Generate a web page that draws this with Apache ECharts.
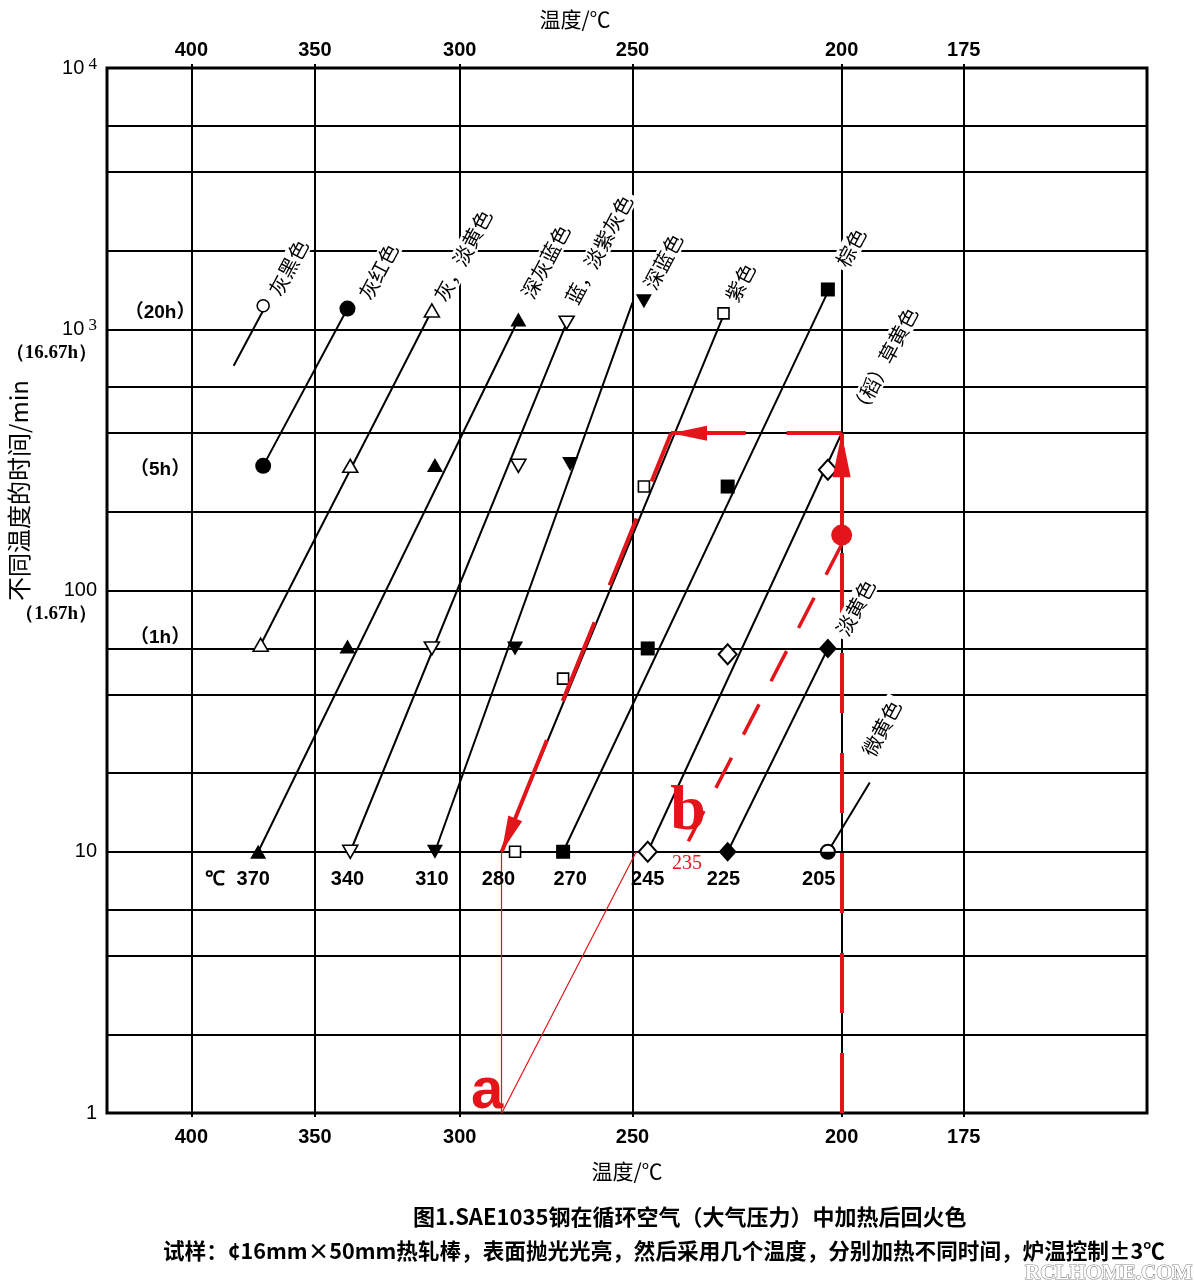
<!DOCTYPE html>
<html><head><meta charset="utf-8">
<script src="https://cdn.jsdelivr.net/npm/echarts@6/dist/echarts.min.js"></script>
<style>html,body{margin:0;padding:0;background:#fff}#c{width:1194px;height:1283px}</style>
</head><body><div id="c"></div>
<script>
// ---------------- data ----------------
// temperature axis (reciprocal absolute temperature scale), tick labels in °C
const tempTicks = [400, 350, 300, 250, 200, 175];
// extra horizontal grid values (min) besides the decades
const timeMinor = [2, 4, 6, 20, 40, 60, 200, 400, 600, 2000, 4000, 6000];

// markers: [temperature °C as placed on the chart, time min]
const openCircle    = [[370, 1230]];
const filledCircle  = [[370, 300], [338, 1200]];
const openTriUp     = [[371, 62], [337, 300], [309, 1180]];
const filledTriUp   = [[372, 10], [338, 61], [308, 302], [282, 1090]];
const openTriDown   = [[337, 10], [309, 60], [282, 300], [268, 1060]];
const filledTriDown = [[308, 10], [283, 60], [267, 305], [247, 1280]];
const openSquare    = [[283, 10], [269, 46], [247, 250], [227, 1150]];
const filledSquare  = [[269, 10], [246, 60], [226, 250], [203, 1420]];
const openDiamond   = [[246, 10], [226, 57], [203, 290]];
const filledDiamond = [[226, 10], [203, 60]];
const halfCircle    = [[203, 10]];

// isochromatic (temper colour) lines
const colourNames = ['灰黑色', '灰红色', '灰，淡黄色', '深灰蓝色', '蓝，淡紫灰色', '深蓝色', '紫色', '棕色', '（稻）草黄色', '淡黄色', '微黄色'];
const lineStarts  = [[382, 725], [370, 300], [371, 62], [372, 10], [337, 10], [308, 10], [287, 10], [269, 10], [246, 10], [226, 10], [203, 10]];
const lineEnds    = [[370, 1180], [338, 1200], [309, 1180], [282, 1090], [268, 1060], [250, 1265], [227, 1130], [203, 1390], [200, 400], [203, 60], [194, 18.4]];
const colourLabelAt = [[360, 1722], [327, 1663], [299, 1915], [274, 1816], [259, 2020], [242, 1816], [223, 1510], [198, 2056], [191, 751], [197, 86], [191.5, 29.7]];

// labels of the 10-min row and hour marks
const rowTempText = ['℃', '370', '340', '310', '280', '270', '245', '225', '205'];
const rowTempAt   = [390, 374, 338, 309, 288, 267, 246, 227, 205];
const rowTempTime = 7.8;
const hourText = ['（20h）', '（5h）', '（1h）'];
const hourTime = [1160, 290, 66];
const hourTemp = 414;

// red annotations
const redCircle     = [200, 163];
const redUpArrow    = [[200, 163], [200, 400]];
const redLeftArrow  = [[200, 400], [240, 400]];
const redDownArrow  = [[240, 400], [287, 10]];
const redRiseDashed = [[200, 1], [200, 158]];
const redBDashed    = [[200, 150], [237, 10]];
const redThinDrop   = [[287, 10], [287, 1]];
const redThinDiag   = [[287, 1], [249, 10]];
const redText       = ['a', 'b', '235'];
const redTextAt     = [[291.5, 1.2], [235.7, 14.1], [236, 9.0]];

// ---------------- chart ----------------
const RED = '#e3151a';
const X = T => 1000 / (T + 273);          // 1000/K
const P = d => [X(d[0]), d[1]];
const X_MIN = 1.4043, X_MAX = 2.4092;

const tickFont = { fontFamily: 'Liberation Sans, Arial, sans-serif', fontSize: 20, color: '#000', fontWeight: 'bold' };
const cjk = 'Noto Sans CJK SC';

function markerSeries(data, symbol, size, fill, extra, border) {
  return Object.assign({
    type: 'scatter', data: data.map(P), symbol: symbol, symbolSize: size, z: 4, silent: true,
    itemStyle: { color: fill, borderColor: '#000', borderWidth: fill === '#fff' ? (border || 1.6) : 0, opacity: 1 }
  }, extra || {});
}
function textSeries(items, label, z) {
  return { type: 'scatter', symbolSize: 0, z: z || 6, silent: true, data: items,
    itemStyle: { color: 'transparent', opacity: 1 },
    label: Object.assign({ show: true, position: 'inside', formatter: '{b}', opacity: 1 }, label) };
}
function redLines(pairs, style, sym, symSize) {
  return { type: 'lines', coordinateSystem: 'cartesian2d', z: 5, silent: true,
    symbol: sym || 'none', symbolSize: symSize || 0,
    lineStyle: Object.assign({ color: RED, opacity: 1, curveness: 0 }, style),
    data: pairs.map(p => ({ coords: [P(p[0]), P(p[1])] })) };
}
const arrowHead = 'path://M0,-44 M0,0 L9,44 L-9,44 Z';

const option = {
  animation: false,
  backgroundColor: '#fff',
  title: [
    { text: '图1.SAE1035钢在循环空气（大气压力）中加热后回火色', left: 408, top: 1201,
      textStyle: { fontFamily: cjk, fontSize: 22, fontWeight: 'bold', color: '#000' } },
    { text: '试样：¢16mm×50mm热轧棒，表面抛光光亮，然后采用几个温度，分别加热不同时间，炉温控制±3℃', left: 158, top: 1235,
      textStyle: { fontFamily: cjk, fontSize: 21.6, fontWeight: 'bold', color: '#000' } },
    { text: 'RCLHOME.COM', left: 1020, top: 1258,
      textStyle: { fontFamily: 'Liberation Serif, serif', fontSize: 21, color: '#fff', textBorderColor: '#8a8a8a', textBorderWidth: 1.2 } }
  ],
  grid: { left: 107, right: 47, top: 68, bottom: 170, outerBoundsMode: 'none', containLabel: false,
    show: true, borderColor: '#000', borderWidth: 3, backgroundColor: 'transparent' },
  xAxis: [
    { type: 'value', position: 'bottom', min: X_MIN, max: X_MAX,
      axisLine: { show: false },
      axisTick: { show: true, length: 4, customValues: tempTicks.map(X), lineStyle: { color: '#000', width: 2 } },
      axisLabel: Object.assign({ customValues: tempTicks.map(X), margin: 14, formatter: v => String(Math.round(1000 / v - 273)) }, tickFont),
      splitLine: { show: true, lineStyle: { color: '#000', width: 2 } },
      name: '温度/℃', nameLocation: 'middle', nameGap: 48, nameMoveOverlap: false,
      nameTextStyle: { fontFamily: cjk, fontSize: 21, color: '#000' } },
    { type: 'value', position: 'top', min: X_MIN, max: X_MAX,
      axisLine: { show: false },
      axisTick: { show: true, length: 4, customValues: tempTicks.map(X), lineStyle: { color: '#000', width: 2 } },
      axisLabel: Object.assign({ customValues: tempTicks.map(X), margin: 8, formatter: v => String(Math.round(1000 / v - 273)) }, tickFont),
      splitLine: { show: false },
      name: '温度/℃', nameLocation: 'middle', nameGap: 38, nameMoveOverlap: false,
      nameTextStyle: { fontFamily: cjk, fontSize: 21, color: '#000', padding: [0, 104, 0, 0] } }
  ],
  yAxis: {
    type: 'log', logBase: 10, min: 1, max: 10000,
    axisLine: { show: false }, axisTick: { show: false },
    splitLine: { show: true, lineStyle: { color: '#000', width: 2 } },
    axisLabel: {
      margin: 10,
      formatter: v => {
        if (v === 1) return '{n|1}';
        if (v === 10) return '{n|10}';
        if (v === 100) return '{e| }\n{n|100}\n{h|（1.67h）}';
        if (v === 1000) return '{e| }\n{n|10}{s| 3}\n{h|（16.67h）}';
        return '{n|10}{s| 4}';
      },
      rich: {
        n: { fontFamily: 'Liberation Sans Narrow, Liberation Sans, sans-serif', fontSize: 20, color: '#000', lineHeight: 24 },
        s: { fontFamily: 'Liberation Serif, serif', fontSize: 17, color: '#000', lineHeight: 24, verticalAlign: 'top' },
        h: { fontFamily: 'Liberation Serif, serif', fontWeight: 'bold', fontSize: 19, color: '#000', lineHeight: 24 },
        e: { fontSize: 10, lineHeight: 24 }
      }
    },
    name: '不同温度的时间/min', nameLocation: 'middle', nameGap: 76, nameMoveOverlap: false,
    nameTextStyle: { fontFamily: cjk, fontSize: 24, color: '#000', padding: [0, 0, 0, 200] }
  },
  series: [
    // minor horizontal grid lines
    { type: 'lines', coordinateSystem: 'cartesian2d', z: 1, silent: true,
      lineStyle: { color: '#000', width: 2, opacity: 1 },
      data: timeMinor.map(v => ({ coords: [[X_MIN, v], [X_MAX, v]] })) },
    // isochromatic lines
    { type: 'lines', coordinateSystem: 'cartesian2d', z: 3, silent: true,
      lineStyle: { color: '#000', width: 2, opacity: 1 },
      data: lineStarts.map((s, i) => ({ coords: [P(s), P(lineEnds[i])] })) },
    // markers
    markerSeries(openCircle, 'circle', 12, '#fff'),
    markerSeries(filledCircle, 'circle', 16, '#000'),
    markerSeries(openTriUp, 'triangle', [15, 13], '#fff'),
    markerSeries(filledTriUp, 'triangle', [16, 14], '#000'),
    markerSeries(openTriDown, 'triangle', [15, 13], '#fff', { symbolRotate: 180 }),
    markerSeries(filledTriDown, 'triangle', [16, 14], '#000', { symbolRotate: 180 }),
    markerSeries(openSquare, 'rect', 11, '#fff'),
    markerSeries(filledSquare, 'rect', 14, '#000'),
    markerSeries(openDiamond, 'diamond', [18, 20], '#fff', null, 2),
    markerSeries(filledDiamond, 'diamond', [18, 20], '#000'),
    markerSeries(halfCircle, 'circle', 14, '#fff', null, 2),
    markerSeries(halfCircle, 'path://M0,0 A10,10 0 0 0 20,0 Z', [13, 6.5], '#000', { symbolOffset: [0, 3.2], z: 5 }),
    // red annotations
    redLines([redRiseDashed], { width: 4, type: [60, 40] }),
    redLines([redUpArrow], { width: 4 }, ['none', arrowHead], [0, [18, 88]]),
    redLines([redLeftArrow], { width: 4, type: [55, 41, 300, 10] }, ['none', arrowHead], [0, [15, 72]]),
    redLines([redDownArrow], { width: 4, type: [52, 40, 72, 40, 85, 42, 130, 10] }, ['none', arrowHead], [0, [15, 72]]),
    redLines([redBDashed], { width: 3.5, type: [34, 26] }),
    redLines([redThinDrop, redThinDiag], { width: 1.2 }),
    { type: 'scatter', z: 6, silent: true, data: [P(redCircle)], symbol: 'circle', symbolSize: 21, itemStyle: { color: RED, opacity: 1 } },
    // colour names along the lines
    textSeries(colourNames.map((n, i) => ({ name: n, value: P(colourLabelAt[i]) })),
      { rotate: 62, fontFamily: cjk, fontSize: 20, color: '#000', backgroundColor: '#fff', padding: [1, 4] }, 6),
    // temperatures of the 10-min row
    textSeries(rowTempText.map((n, i) => ({ name: n, value: [X(rowTempAt[i]), rowTempTime] })),
      { fontFamily: 'Liberation Sans, Arial, sans-serif', fontSize: 20, fontWeight: 'bold', color: '#000' }, 6),
    // hour marks
    textSeries(hourText.map((n, i) => ({ name: n, value: [X(hourTemp), hourTime[i]] })),
      { fontFamily: 'Liberation Sans, ' + cjk, fontSize: 19, fontWeight: 'bold', color: '#000' }, 6),
    // red letters
    textSeries([
      { name: redText[0], value: P(redTextAt[0]), label: { fontFamily: 'Liberation Sans, sans-serif', fontWeight: 'bold', fontSize: 58, color: RED } },
      { name: redText[1], value: P(redTextAt[1]), label: { fontFamily: 'Liberation Serif, serif', fontWeight: 'bold', fontSize: 64, color: RED } },
      { name: redText[2], value: P(redTextAt[2]), label: { fontFamily: 'Liberation Serif, serif', fontSize: 20, color: RED } }
    ], {}, 7)
  ]
};
const chart = echarts.init(document.getElementById('c'));
chart.setOption(option);
</script></body></html>
